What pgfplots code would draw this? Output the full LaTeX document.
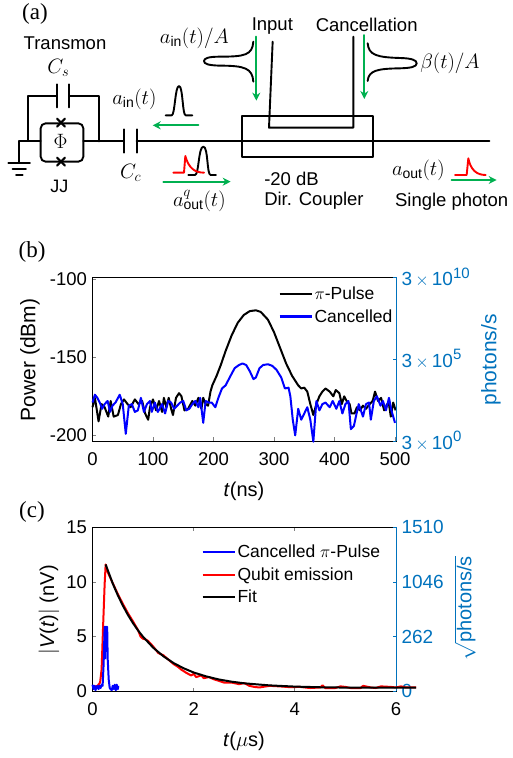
\documentclass[border=0pt]{standalone}
\usepackage{pgfplots}
\pgfplotsset{compat=1.18}
\usepackage{fontspec}
\setmainfont{Liberation Sans}
\newfontfamily\serifb{Liberation Serif}
\usetikzlibrary{arrows.meta}
\definecolor{axblue}{RGB}{0,114,189}
\definecolor{gr}{RGB}{0,176,80}
\newcommand{\fs}[1]{\fontsize{#1}{#1}\selectfont}
\newcommand{\tenp}[1]{3\,$\times$\,10\raisebox{7.5pt}{\fs{15}#1}}
\pgfplotstableread{
t v
0 -182
4 -176
10 -191
15 -180
20 -182
26 -188
30 -178
35 -188
42 -187
47 -180
52 -177
58 -180
63 -182
70 -177
76 -180
82 -178
87 -186
92 -190
95 -182
100 -177
105 -184
110 -178
115 -185
118 -176
122 -182
126 -176
130 -183
133 -187
138 -176
143 -173
147 -175
152 -184
158 -183
165 -178
170 -181
175 -176
180 -183
183 -176
187 -180
191 -181
195 -172
198 -168
205 -162
212 -155
220 -146
230 -136
240 -128
250 -123
260 -120.5
270 -120
278 -121
290 -126
300 -134
310 -144
320 -154
330 -162
340 -168
345 -170
350 -169.5
355 -172
360 -180
365 -187
370 -180
375 -175
380 -172
385 -170
392 -172
398 -175
402 -171
408 -173
412 -180
416 -175
420 -178
425 -180
428 -186
433 -186
437 -182
442 -184
447 -181
452 -183
458 -180
463 -178
467 -172
472 -178
477 -176
482 -184
487 -180
490 -180
493 -188
497 -179
501 -184
}\tblack
\pgfplotstableread{
t v
0 -179
4 -174
8 -176
12 -179
16 -183
20 -180
25 -178
29 -185
33 -181
38 -179
45 -174
50 -180
55 -199
60 -181
65 -180
70 -185
75 -184
80 -176
85 -185
90 -180
95 -178
98 -185
103 -179
108 -185
115 -180
120 -186
125 -178
130 -179
135 -183
140 -181
145 -179
150 -178
155 -184
160 -183
165 -180
170 -178
175 -182
178 -176
183 -192
187 -178
192 -179
197 -179
203 -182
208 -176
214 -170
220 -168
228 -162
235 -157
242 -155
248 -154
254 -155
260 -159
266 -164
270 -163
276 -157
282 -155
290 -154.5
297 -155.5
304 -158
312 -163
318 -170
324 -169.5
327 -175
331 -190
335 -200
340 -183
345 -190
350 -186
355 -182
360 -190
365 -204
370 -178
375 -184
380 -180
385 -179
392 -182
397 -178
403 -183
408 -178
413 -186
418 -180
423 -178
427 -196
432 -194
437 -185
440 -180
447 -188
452 -180
457 -179
460 -190
465 -178
470 -175
476 -181
480 -178
485 -184
490 -176
494 -184
500 -192
}\tblue
\pgfplotstableread{
t v
0 .4
.1 .5
.15 .8
.18 2
.21 6
.24 9.8
.26 11.6
.3 10.9
.4 9.9
.5 8.9
.6 8
.7 7.15
.8 6.4
.9 5.6
.95 5
1.0 4.8
1.05 4.75
1.1 4.6
1.2 4.1
1.3 3.5
1.4 3.3
1.5 2.9
1.6 2.5
1.7 2.2
1.75 2.0
1.85 1.7
1.95 1.45
2.0 1.6
2.05 1.3
2.15 1.45
2.2 1.2
2.3 1.3
2.4 1.1
2.5 .95
2.6 .8
2.75 .8
2.9 .65
3.0 .75
3.1 .5
3.2 .4
3.3 .35
3.5 .5
3.7 .45
3.9 .38
4.1 .4
4.3 .3
4.5 .35
4.55 .55
4.6 .3
4.8 .3
4.9 .45
5.0 .4
5.1 .3
5.3 .3
5.35 .5
5.5 .35
5.6 .3
5.7 .45
5.9 .4
6.0 .35
6.1 .45
6.2 .35
6.4 .35
}\tred
\pgfplotstableread{
t v
.26 11.6
.3 11.1
.4 9.86
.5 8.79
.6 7.84
.7 6.99
.8 6.24
.9 5.57
1.0 4.98
1.2 3.99
1.4 3.21
1.6 2.59
1.8 2.11
2.0 1.72
2.25 1.36
2.5 1.08
2.75 .88
3 .73
3.5 .54
4 .43
4.5 .37
5 .34
6 .33
6.4 .33
}\tfit
\pgfplotstableread{
t v
0 .6
.02 .2
.04 .5
.06 .1
.08 .4
.1 .5
.12 .2
.14 .5
.16 .3
.18 .6
.2 .5
.22 2.5
.24 5.9
.25 3
.26 5.9
.27 4
.28 5.9
.29 5.9
.30 3
.32 1.1
.34 .3
.36 .2
.38 .1
.4 .5
.42 .2
.44 .6
.46 .1
.48 .6
.5 .2
.51 .5
}\tcanc
\pgfplotsset{
 panel/.style={scale only axis, width=303.5pt, height=164pt, anchor=south west,
   clip=false, axis line style={line width=0.8pt}, tick style={line width=0.7pt, major tick length=3.5pt},
   tick align=inside, xtick pos=bottom, ytick pos=left,
   tick label style={font=\fs{18.5}},
   xticklabel style={yshift=-8pt}, yticklabel style={xshift=-2pt},
   legend cell align=left,
   legend image code/.code={\draw[##1, line width=2.1pt] (0pt,0pt) -- (32pt,0pt);},
   legend style={draw=none, fill=none, font=\fs{17.5}, inner sep=0pt, row sep=4.5pt, anchor=north west},
   every axis plot/.append style={line join=round}},
 rpanel/.style={scale only axis, width=303.5pt, height=164pt, anchor=south west,
   axis x line=none, axis y line*=right, axis line style={axblue, line width=0.9pt, -},
   tick style={axblue, line width=0.7pt, major tick length=3.5pt}, tick align=inside,
   tick label style={font=\fs{19}, text=axblue}, yticklabel style={xshift=2pt}}
}
\begin{document}
\begin{tikzpicture}[x=1pt,y=1pt]
\path[use as bounding box] (0,0) rectangle (512,758);
% panel (a)
\begin{scope}[shift={(0,758)}, x=0.33333pt, y=-0.33333pt, line width=1.9pt, line cap=round, line join=round]
\node[font=\serifb\fs{23}] at (105,43) {(a)};
\node[font=\fs{18.5}] at (195,130) {Transmon};
\node[font=\fs{20}] at (175,203) {$C_s$};
\draw (170,253)--(170,322) (207,253)--(207,322);
\draw (170,287)--(85,287)--(85,421) (207,287)--(297,287)--(297,424);
\draw[rounded corners=5pt] (122,370) rectangle (250,485);
\draw[line width=2.1pt] (171,356)--(195,380) (171,380)--(195,356) (171,473)--(195,497) (171,497)--(195,473);
\node[font=\fs{20}] at (182,425) {$\Phi$};
\draw (25,488)--(90,488) (38,506)--(78,506) (48,525)--(68,525);
\draw (58,488)--(58,422)--(122,422) (250,424)--(372,424);
\draw (372,388)--(372,458) (410,388)--(410,458);
\draw (410,423)--(1468,423);
\node[font=\fs{18}] at (178,558) {JJ};
\node[font=\fs{20}] at (392,520) {$C_c$};
\node[font=\fs{20}] at (403,298) {$a_{\mathrm{in}}(t)$};
\draw (497,346)--(515,346) .. controls (525,346) and (525,258) .. (537,258) .. controls (549,258) and (547,346) .. (557,346)--(577,346);
\draw[gr, -{Stealth[length=8pt,width=8pt]}] (595,376)--(458,376);
\draw (565,525)--(585,525) .. controls (597,525) and (595,440) .. (610,440) .. controls (625,440) and (620,525) .. (632,525)--(648,525);
\draw[red] (520,518)--(552,518)--(556,468) .. controls (566,505) and (585,518) .. (612,518);
\draw[gr, -{Stealth[length=8pt,width=8pt]}] (490,545)--(692,545);
\node[font=\fs{20}] at (598,603) {$a^{q}_{\mathrm{out}}(t)$};
\draw (727,348) rectangle (1118,470);
\draw (818,125)--(807,383)--(1060,383)--(1060,110);
\node[font=\fs{18.5}, anchor=west] at (780,537) {-20 dB};
\node[font=\fs{18.5}, anchor=west] at (780,603) {Dir. Coupler};
\node[font=\fs{18.5}] at (817,78) {Input};
\node[font=\fs{18.5}] at (1100,76) {Cancellation};
\draw[gr, -{Stealth[length=8pt,width=8pt]}] (769,110)--(769,302);
\draw[gr, -{Stealth[length=8pt,width=8pt]}] (1093,105)--(1093,297);
\node[font=\fs{20}] at (583,115) {$a_{\mathrm{in}}(t)/A$};
\node[font=\fs{20}] at (1350,190) {$\beta(t)/A$};
\draw (760,125) .. controls (757,165) and (735,170) .. (660,170) .. controls (625,170) and (612,175) .. (612,183) .. controls (612,192) and (625,196) .. (660,197) .. controls (735,197) and (757,205) .. (760,245);
\draw (1103,130) .. controls (1106,165) and (1130,172) .. (1200,174) .. controls (1235,175) and (1250,180) .. (1250,190) .. controls (1250,200) and (1235,204) .. (1200,205) .. controls (1130,206) and (1106,212) .. (1103,243);
\node[font=\fs{20}] at (1255,510) {$a_{\mathrm{out}}(t)$};
\draw[red] (1365,525)--(1400,525)--(1405,475) .. controls (1412,510) and (1430,525) .. (1457,525);
\draw[gr, -{Stealth[length=8pt,width=8pt]}] (1355,540)--(1490,540);
\node[font=\fs{18.5}] at (1355,605) {Single photon};
\end{scope}
% panel (b)
\node[font=\serifb\fs{23}] at (32,506) {(b)};
\begin{axis}[panel, at={(92.5pt,317pt)}, height=163.5pt,
 xmin=0, xmax=501.6, ymin=-203.6, ymax=-99,
 xtick={0,100,200,300,400,500}, xticklabels={0,100,200,300,400,500},
 ytick={-200,-150,-100}, yticklabels={-200,-150,-100},
 legend style={at={(axis cs:307,-103.5)}}]
\addplot[black, line width=2pt] table[x=t,y=v]{\tblack};
\addlegendentry{$\pi$-Pulse}
\addplot[blue, line width=2pt] table[x=t,y=v]{\tblue};
\addlegendentry{Cancelled}
\end{axis}
\begin{axis}[rpanel, at={(92.5pt,317pt)}, height=163.5pt, ymode=log, xmin=0, xmax=501.6, ymin=3, ymax=3e10,
 ytick={3,3e5,3e10}, yticklabels={\tenp{0},\tenp{5},\tenp{10}}, minor tick num=0, yminorticks=false]
\addplot[draw=none, forget plot] coordinates {(0,3) (501,3e10)};
\end{axis}
\node[font=\fs{21}, rotate=90] at (30,398) {Power (dBm)};
\node[font=\fs{21}, rotate=90, text=axblue] at (491,398) {photons/s};
\node[font=\fs{20}] at (244,267) {\textit{t}(ns)};
% panel (c)
\node[font=\serifb\fs{23}] at (32,246) {(c)};
\begin{axis}[panel, at={(92.5pt,66.7pt)}, xtick pos=both,
 xmin=0, xmax=6, ymin=0, ymax=15,
 xtick={0,2,4,6}, xticklabels={0,2,4,6},
 ytick={0,5,10,15}, yticklabels={0,5,10,15}]
\addplot[draw=none, forget plot] coordinates {(0,0) (6,15)};
\end{axis}
\begin{axis}[rpanel, at={(92.5pt,66.7pt)}, xmin=0, xmax=6, ymin=0, ymax=15,
 ytick={0,5,10,15}, yticklabels={0,262,1046,1510}]
\addplot[draw=none, forget plot] coordinates {(0,0) (6,15)};
\end{axis}
\begin{axis}[panel, hide axis, at={(92.5pt,66.7pt)}, width=323.73pt,
 xmin=0, xmax=6.4, ymin=0, ymax=15,
 legend style={at={(axis cs:2.15,13.6)}}]
\addlegendimage{blue}
\addlegendentry{Cancelled $\pi$-Pulse}
\addlegendimage{red}
\addlegendentry{Qubit emission}
\addlegendimage{black}
\addlegendentry{Fit}
\addplot[red, line width=2pt, forget plot] table[x=t,y=v]{\tred};
\addplot[black, line width=2pt, forget plot] table[x=t,y=v]{\tfit};
\addplot[blue, line width=2pt, forget plot] table[x=t,y=v]{\tcanc};
\end{axis}
\node[font=\fs{20}, rotate=90] at (49,148) {$|$\textit{V}(\textit{t})$|$ (nV)};
\node[font=\fs{20}, rotate=90, text=axblue] at (465,150) {$\sqrt{\mbox{\fs{20}photons/s}}$};
\node[font=\fs{20}] at (244,17) {\textit{t}($\mu$s)};
\end{tikzpicture}
\end{document}
